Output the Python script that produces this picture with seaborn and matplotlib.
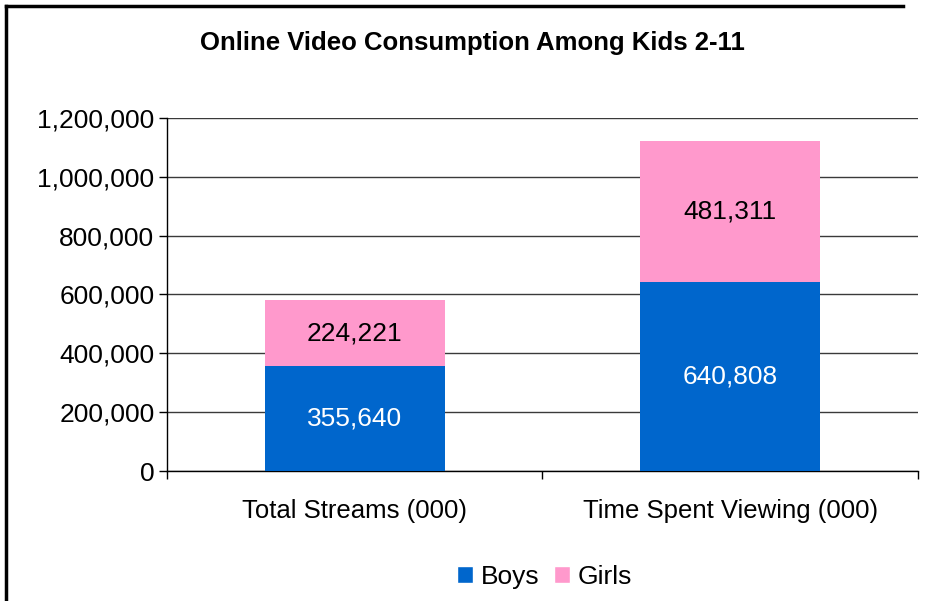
import pandas as pd
import matplotlib.pyplot as plt
import seaborn as sns
from matplotlib.patches import Patch
from matplotlib.lines import Line2D

categories = ['Total Streams (000)', 'Time Spent Viewing (000)']
boys = [355640, 640808]
girls = [224221, 481311]
yticks = [0, 200000, 400000, 600000, 800000, 1000000, 1200000]

df = pd.DataFrame({'category': categories, 'Boys': boys, 'Girls': girls})
df['total'] = df['Boys'] + df['Girls']

sns.set_theme(style='white')
plt.rcParams['font.family'] = ['Liberation Sans', 'DejaVu Sans']
plt.rcParams['text.color'] = 'black'
plt.rcParams['xtick.color'] = 'black'
plt.rcParams['ytick.color'] = 'black'

fig = plt.figure(figsize=(9.26, 6.01), dpi=100)
ax = fig.add_axes([0.1803, 0.2163, 0.8110, 0.5874])

blue = '#0066CC'
pink = '#FF99CC'

# stacked bars: total drawn in pink, boys on top of it in blue
sns.barplot(x='category', y='total', data=df, color=pink, width=0.48,
            saturation=1, linewidth=0, ax=ax, zorder=3)
sns.barplot(x='category', y='Boys', data=df, color=blue, width=0.48,
            saturation=1, linewidth=0, ax=ax, zorder=4)

ax.set_ylim(0, 1200000)
ax.set_xlim(-0.5, 1.5)
ax.set_yticks(yticks)
ax.set_yticklabels([f'{v:,}' for v in yticks])
ax.yaxis.grid(True, color='#3a3a3a', linewidth=1)
ax.set_axisbelow(True)
ax.set_xlabel('')
ax.set_ylabel('')

for s in ['top', 'right']:
    ax.spines[s].set_visible(False)
for s in ['left', 'bottom']:
    ax.spines[s].set_color('black')
    ax.spines[s].set_linewidth(1)

ax.tick_params(axis='y', which='major', left=True, length=6, width=1,
               labelsize=19, pad=3)
ax.tick_params(axis='x', which='major', bottom=False, labelsize=18.5, pad=14)
ax.set_xticks([-0.5, 0.5, 1.5], minor=True)
ax.tick_params(axis='x', which='minor', bottom=True, length=6, width=1)

for i in range(len(categories)):
    ax.text(i, boys[i] / 2, f'{boys[i]:,}', ha='center', va='center',
            color='white', fontsize=19, zorder=5)
    ax.text(i, boys[i] + girls[i] / 2, f'{girls[i]:,}', ha='center',
            va='center', color='black', fontsize=19, zorder=5)

fig.text(0.510, 0.929, 'Online Video Consumption Among Kids 2-11',
         ha='center', va='center', fontsize=18.5, fontweight='bold')

handles = [Patch(facecolor=blue, label='Boys'), Patch(facecolor=pink, label='Girls')]
fig.legend(handles=handles, loc='center', bbox_to_anchor=(0.588, 0.04), ncol=2,
           frameon=False, fontsize=19, handlelength=0.6, handleheight=0.6,
           handletextpad=0.3, columnspacing=0.55)

# chart frame, only left and top edges visible in the crop
x0 = 6 / 926
y0 = 1 - 6 / 601
fig.add_artist(Line2D([x0, x0], [0, y0], transform=fig.transFigure,
                      color='black', linewidth=2.5, solid_capstyle='projecting'))
fig.add_artist(Line2D([x0, 0.975], [y0, y0], transform=fig.transFigure,
                      color='black', linewidth=2.5, solid_capstyle='projecting'))

fig.savefig('out.png', dpi=100)
